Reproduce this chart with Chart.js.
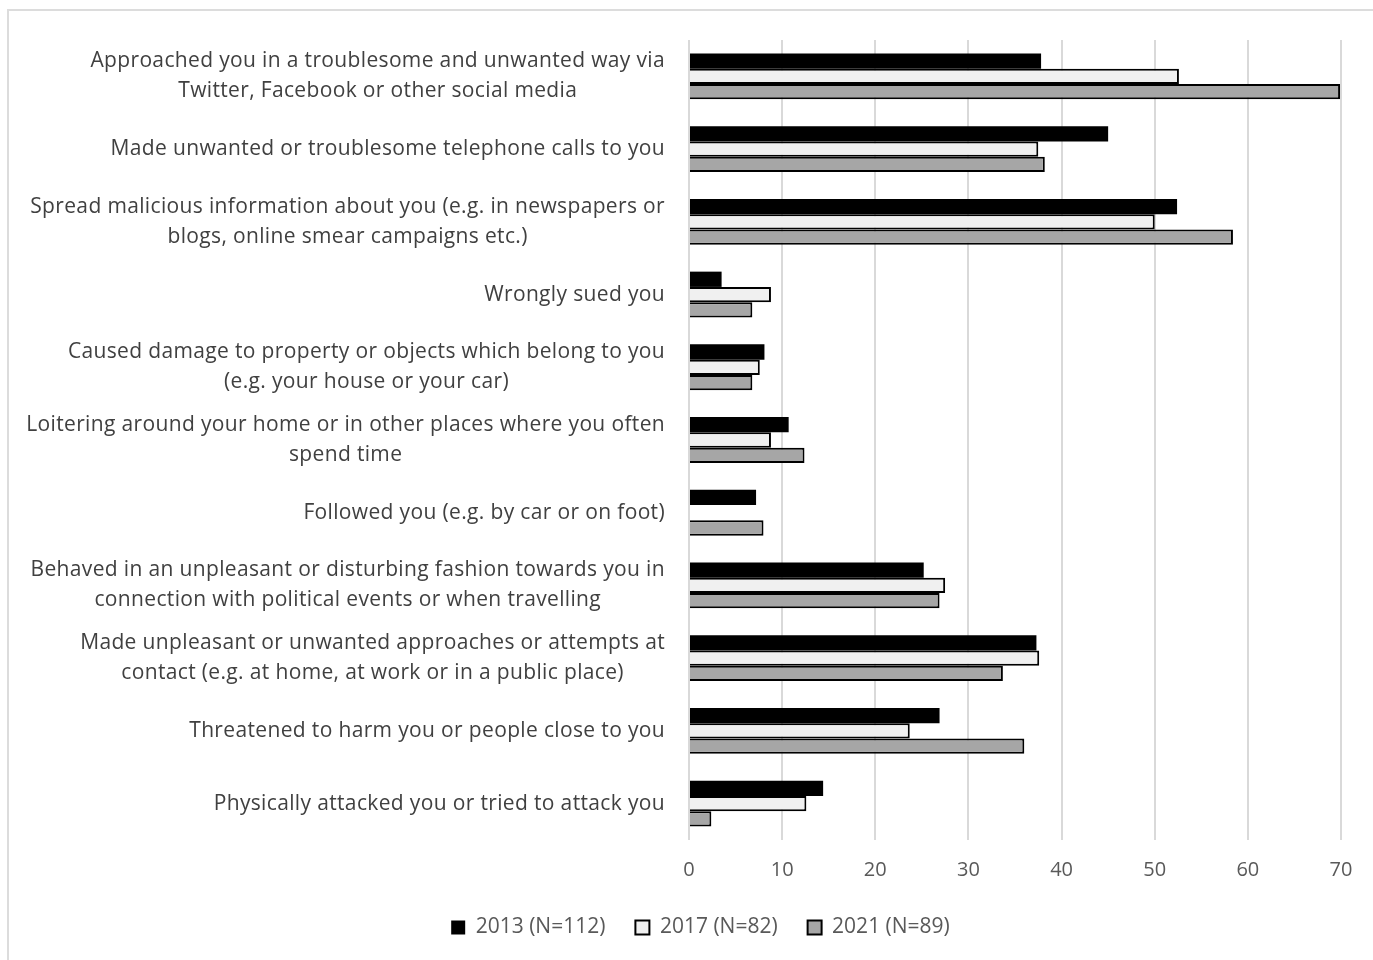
<!DOCTYPE html>
<html>
<head>
<meta charset="utf-8">
<script src="https://cdn.jsdelivr.net/npm/chart.js@4/dist/chart.umd.min.js"></script>
<style>
  html, body { margin: 0; padding: 0; background: #fff; }
  #frame {
    position: absolute; left: 7px; top: 9px; width: 1366px; height: 951px;
    border-top: 2px solid #dcdcdc; border-left: 2px solid #dcdcdc;
  }
  #wrap { position: absolute; left: 0; top: 0; width: 1373px; height: 960px; }
</style>
</head>
<body>
<div id="frame"></div>
<div id="wrap"><canvas id="chart"></canvas></div>
<script>
// categories (each line of a label is one entry)
const categories = [
  ['Approached you in a troublesome and unwanted way via', 'Twitter, Facebook or other social media'],
  ['Made unwanted or troublesome telephone calls to you'],
  ['Spread malicious information about you (e.g. in newspapers or', 'blogs, online smear campaigns etc.)'],
  ['Wrongly sued you'],
  ['Caused damage to property or objects which belong to you', '(e.g. your house or your car)'],
  ['Loitering around your home or in other places where you often', 'spend time'],
  ['Followed you (e.g. by car or on foot)'],
  ['Behaved in an unpleasant or disturbing fashion towards you in', 'connection with political events or when travelling'],
  ['Made unpleasant or unwanted approaches or attempts at', 'contact (e.g. at home, at work or in a public place)'],
  ['Threatened to harm you or people close to you'],
  ['Physically attacked you or tried to attack you']
];

const seriesNames = ['2013 (N=112)', '2017 (N=82)', '2021 (N=89)'];

const values2013 = [37.8, 45.0, 52.4, 3.5, 8.1, 10.7, 7.2, 25.2, 37.3, 26.9, 14.4];
const values2017 = [52.6, 37.5, 50.0, 8.8, 7.6, 8.8, 0, 27.5, 37.6, 23.7, 12.6];
const values2021 = [69.9, 38.2, 58.4, 6.8, 6.8, 12.4, 8.0, 26.9, 33.7, 36.0, 2.4];

const xTicks = [0, 10, 20, 30, 40, 50, 60, 70];

const FONT = '"Open Sans", Lato, sans-serif';

// draws the category labels with each label's lines centred on each other
const centredLabels = {
  id: 'centredLabels',
  afterDraw(chart) {
    const scale = chart.scales.y;
    const ctx = chart.ctx;
    const lineH = 30;
    ctx.save();
    ctx.font = '21px ' + FONT;
    ctx.letterSpacing = '0.35px';
    ctx.fillStyle = '#404040';
    ctx.textAlign = 'center';
    ctx.textBaseline = 'middle';
    categories.forEach((lines, i) => {
      const y = scale.getPixelForTick(i);
      const w = Math.max(...lines.map(l => ctx.measureText(l).width));
      const cx = scale.right - 24 - w / 2;
      lines.forEach((l, j) => {
        ctx.fillText(l, cx, y + (j - (lines.length - 1) / 2) * lineH);
      });
    });
    ctx.restore();
  }
};

new Chart(document.getElementById('chart'), {
  type: 'bar',
  data: {
    labels: categories,
    datasets: [
      { label: seriesNames[0], data: values2013, backgroundColor: '#000000', borderColor: '#000000', borderWidth: 0 },
      { label: seriesNames[1], data: values2017, backgroundColor: '#f0f0f0', borderColor: '#000000', borderWidth: 2 },
      { label: seriesNames[2], data: values2021, backgroundColor: '#a6a6a6', borderColor: '#000000', borderWidth: 2 }
    ]
  },
  options: {
    indexAxis: 'y',
    responsive: true,
    maintainAspectRatio: false,
    animation: false,
    layout: { padding: { top: 40, left: 60, right: 32, bottom: 12 } },
    datasets: { bar: { barPercentage: 1, categoryPercentage: 0.63 } },
    scales: {
      x: {
        min: 0, max: 70,
        afterBuildTicks: (s) => { s.ticks = xTicks.map(v => ({ value: v })); },
        grid: { color: '#d9d9d9', lineWidth: 2, drawTicks: false },
        border: { display: false },
        ticks: { color: '#595959', padding: 18, font: { family: FONT, size: 20 } },
        afterFit: (s) => { s.height = 47; }
      },
      y: {
        grid: { display: false },
        border: { display: false },
        ticks: { display: false },
        afterFit: (s) => { s.width = 629; }
      }
    },
    plugins: {
      legend: {
        position: 'bottom',
        labels: {
          color: '#595959', boxWidth: 14, boxHeight: 14, padding: 30,
          font: { family: FONT, size: 21 }
        }
      },
      tooltip: { enabled: false }
    }
  },
  plugins: [centredLabels]
});
</script>
</body>
</html>
